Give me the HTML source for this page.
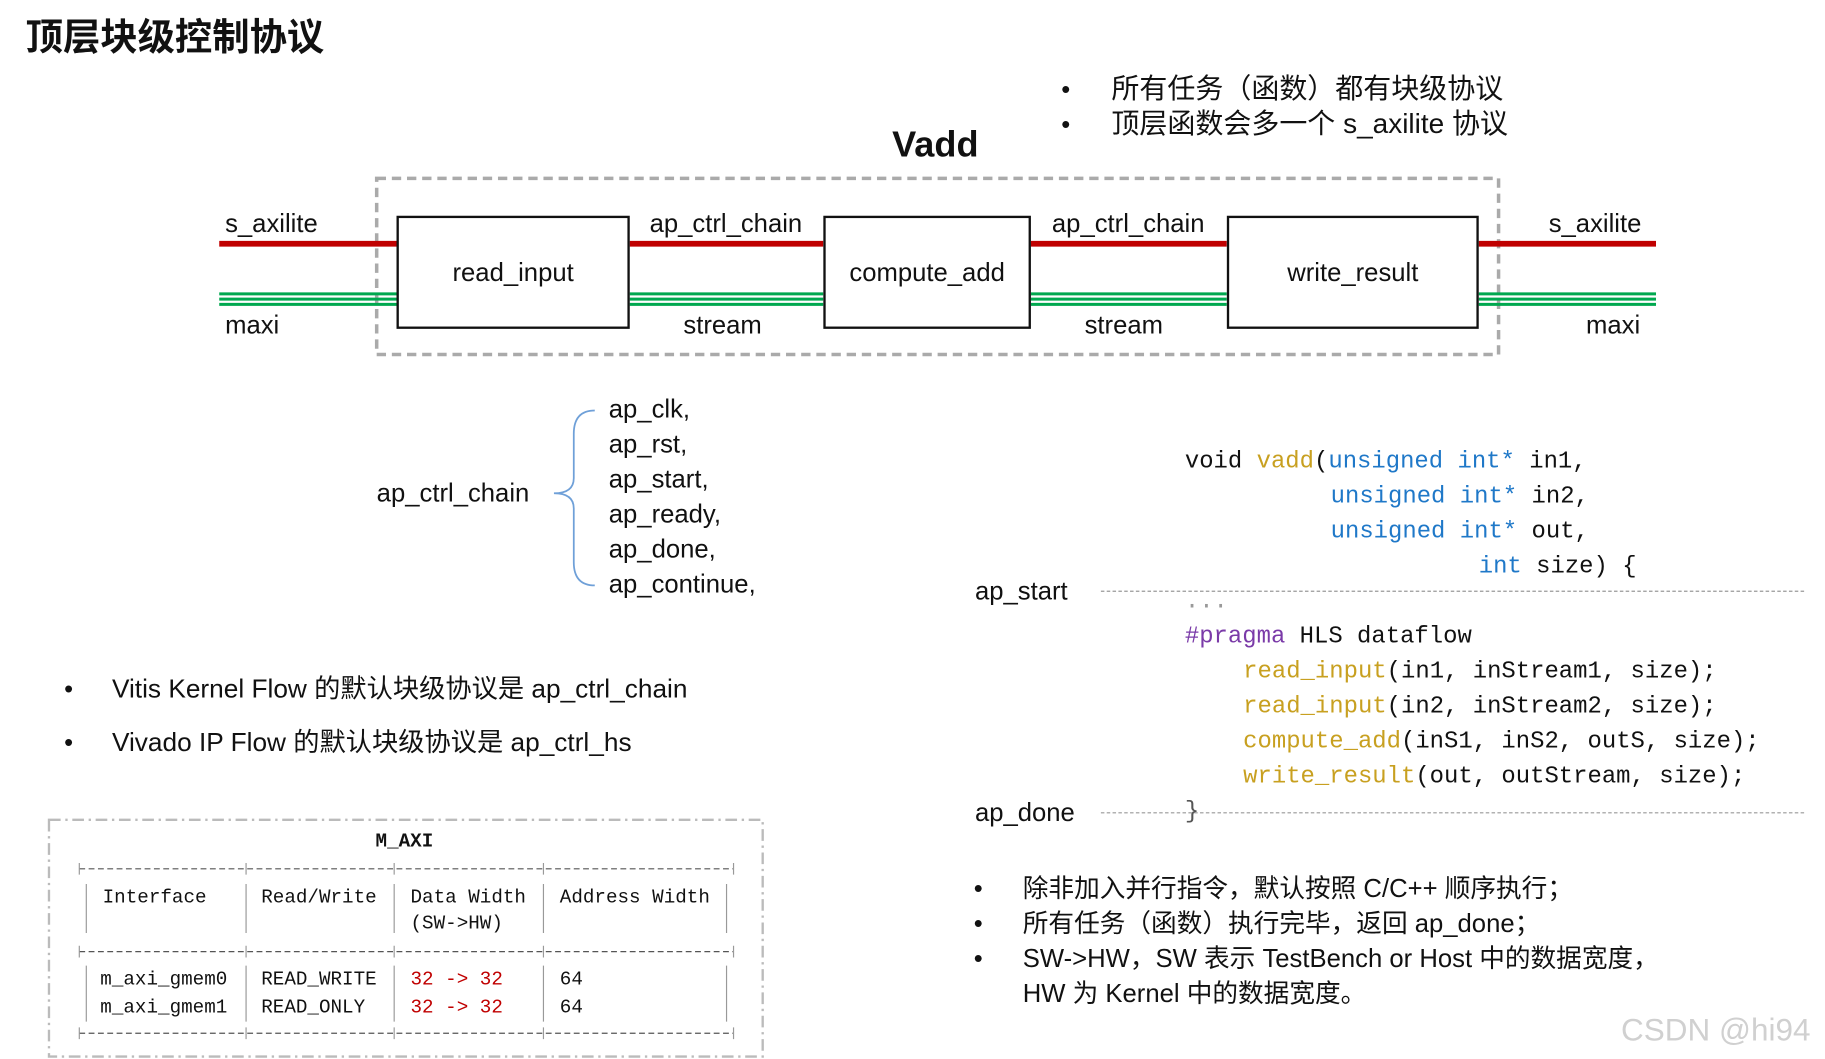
<!DOCTYPE html>
<html><head><meta charset="utf-8"><style>
html,body{margin:0;padding:0;background:#fff;width:1825px;height:1059px;overflow:hidden}
#w{position:absolute;left:0;top:0;width:1565px;height:908px;transform:scale(1.1662);transform-origin:0 0;font-family:"Liberation Sans","Noto Sans CJK SC",sans-serif;color:#111}
.t{position:absolute;white-space:pre;line-height:30px;height:30px}
.s{font-size:22px}
.c{font-family:"Liberation Mono","Noto Sans CJK SC",monospace;font-size:20.5px}
.b{color:#1f78c8}.y{color:#c8a020}.p{color:#7a3aa8}
.m{font-family:"Liberation Mono",monospace;font-size:16.5px}
.box{position:absolute;border:2px solid #111;box-sizing:border-box;background:#fff}
</style></head><body><div id="w">
<div class="t" style="left:22px;top:14px;font-size:32px;font-weight:bold;height:36px;line-height:36px">顶层块级控制协议</div>
<div class="t s" style="left:910px;top:62px">•</div>
<div class="t s" style="left:910px;top:92px">•</div>
<div class="t" style="left:953px;top:62px;font-size:24px">所有任务（函数）都有块级协议</div>
<div class="t" style="left:953px;top:92px;font-size:24px">顶层函数会多一个 s_axilite 协议</div>
<div class="t" style="left:765px;top:106px;font-size:31px;font-weight:bold;height:36px;line-height:36px">Vadd</div>

<svg style="position:absolute;left:0;top:0" width="1565" height="908">
<rect x="323" y="153" width="962" height="151" fill="none" stroke="#aaa" stroke-width="3" stroke-dasharray="8,5"/>
<g stroke="#c00000" stroke-width="5">
<line x1="188" y1="209" x2="340" y2="209"/><line x1="539" y1="209" x2="706" y2="209"/><line x1="883" y1="209" x2="1052" y2="209"/><line x1="1267" y1="209" x2="1420" y2="209"/></g>
<g stroke="#00a84f" stroke-width="2.5">
<path d="M188 252H340M539 252H706M883 252H1052M1267 252H1420M188 256.5H340M539 256.5H706M883 256.5H1052M1267 256.5H1420M188 261H340M539 261H706M883 261H1052M1267 261H1420"/></g>
<path d="M510 352 Q492 352 492 372 L492 410 Q492 423 475 423 Q492 423 492 436 L492 482 Q492 502 510 502" fill="none" stroke="#6fa0d8" stroke-width="1.5"/>
<line x1="944" y1="507" x2="1548" y2="507" stroke="#999" stroke-width="1" stroke-dasharray="3,2"/>
<line x1="944" y1="697" x2="1548" y2="697" stroke="#999" stroke-width="1" stroke-dasharray="3,2"/>
<rect x="42" y="703" width="612" height="203" fill="none" stroke="#bbb" stroke-width="2" stroke-dasharray="10,4,2,4"/>
<g stroke="#555" stroke-width="1" stroke-dasharray="5,3">
<line x1="68" y1="745" x2="629" y2="745"/><line x1="68" y1="816" x2="629" y2="816"/><line x1="68" y1="886" x2="629" y2="886"/></g>
<g stroke="#999" stroke-width="1">
<path d="M74 758V800M211 758V800M338 758V800M466 758V800M623 758V800M74 828V876M211 828V876M338 828V876M466 828V876M623 828V876"/>
<path d="M68 740V750M211 740V750M338 740V750M466 740V750M629 740V750M68 811V821M211 811V821M338 811V821M466 811V821M629 811V821M68 881V891M211 881V891M338 881V891M466 881V891M629 881V891"/></g>
</svg>

<div class="box" style="left:340px;top:185px;width:200px;height:97px"></div>
<div class="box" style="left:706px;top:185px;width:178px;height:97px"></div>
<div class="box" style="left:1052px;top:185px;width:216px;height:97px"></div>
<div class="t s" style="left:340px;top:219px;width:200px;text-align:center">read_input</div>
<div class="t s" style="left:706px;top:219px;width:178px;text-align:center">compute_add</div>
<div class="t s" style="left:1052px;top:219px;width:216px;text-align:center">write_result</div>
<div class="t s" style="left:193px;top:177px">s_axilite</div>
<div class="t s" style="left:557px;top:177px">ap_ctrl_chain</div>
<div class="t s" style="left:902px;top:177px">ap_ctrl_chain</div>
<div class="t s" style="left:1328px;top:177px">s_axilite</div>
<div class="t s" style="left:193px;top:264px">maxi</div>
<div class="t s" style="left:586px;top:264px">stream</div>
<div class="t s" style="left:930px;top:264px">stream</div>
<div class="t s" style="left:1360px;top:264px">maxi</div>

<div class="t s" style="left:323px;top:408px">ap_ctrl_chain</div>
<div class="t s" style="left:522px;top:336px">ap_clk,</div>
<div class="t s" style="left:522px;top:366px">ap_rst,</div>
<div class="t s" style="left:522px;top:396px">ap_start,</div>
<div class="t s" style="left:522px;top:426px">ap_ready,</div>
<div class="t s" style="left:522px;top:456px">ap_done,</div>
<div class="t s" style="left:522px;top:486px">ap_continue,</div>

<div class="t s" style="left:55px;top:576px">•</div>
<div class="t s" style="left:55px;top:622px">•</div>
<div class="t s" style="left:96px;top:576px;font-size:22.5px">Vitis Kernel Flow 的默认块级协议是 ap_ctrl_chain</div>
<div class="t s" style="left:96px;top:622px;font-size:22.5px">Vivado IP Flow 的默认块级协议是 ap_ctrl_hs</div>

<div class="t s" style="left:836px;top:492px">ap_start</div>
<div class="t s" style="left:836px;top:682px">ap_done</div>
<div class="t c" style="left:1016px;top:382px">void <span class="y">vadd</span>(<span class="b">unsigned int*</span> in1,</div>
<div class="t c" style="left:1141px;top:412px"><span class="b">unsigned int*</span> in2,</div>
<div class="t c" style="left:1141px;top:442px"><span class="b">unsigned int*</span> out,</div>
<div class="t c" style="left:1268px;top:472px"><span class="b">int</span> size) {</div>
<div class="t c" style="left:1016px;top:502px;color:#999">...</div>
<div class="t c" style="left:1016px;top:532px"><span class="p">#pragma</span> HLS dataflow</div>
<div class="t c" style="left:1066px;top:562px"><span class="y">read_input</span>(in1, inStream1, size);</div>
<div class="t c" style="left:1066px;top:592px"><span class="y">read_input</span>(in2, inStream2, size);</div>
<div class="t c" style="left:1066px;top:622px"><span class="y">compute_add</span>(inS1, inS2, outS, size);</div>
<div class="t c" style="left:1066px;top:652px"><span class="y">write_result</span>(out, outStream, size);</div>
<div class="t c" style="left:1016px;top:682px;color:#555">}</div>

<div class="t s" style="left:835px;top:747px">•</div>
<div class="t s" style="left:835px;top:777px">•</div>
<div class="t s" style="left:835px;top:807px">•</div>
<div class="t s" style="left:877px;top:747px">除非加入并行指令，默认按照 C/C++ 顺序执行；</div>
<div class="t s" style="left:877px;top:777px">所有任务（函数）执行完毕，返回 ap_done；</div>
<div class="t s" style="left:877px;top:807px">SW-&gt;HW，SW 表示 TestBench or Host 中的数据宽度，</div>
<div class="t s" style="left:877px;top:837px">HW 为 Kernel 中的数据宽度。</div>

<div class="t m" style="left:322px;top:707px;font-weight:bold">M_AXI</div>
<div class="t m" style="left:88px;top:755px">Interface</div>
<div class="t m" style="left:224px;top:755px">Read/Write</div>
<div class="t m" style="left:352px;top:755px">Data Width</div>
<div class="t m" style="left:352px;top:777px">(SW-&gt;HW)</div>
<div class="t m" style="left:480px;top:755px">Address Width</div>
<div class="t m" style="left:86px;top:825px">m_axi_gmem0</div>
<div class="t m" style="left:224px;top:825px">READ_WRITE</div>
<div class="t m" style="left:352px;top:825px;color:#c00000">32 -&gt; 32</div>
<div class="t m" style="left:480px;top:825px">64</div>
<div class="t m" style="left:86px;top:849px">m_axi_gmem1</div>
<div class="t m" style="left:224px;top:849px">READ_ONLY</div>
<div class="t m" style="left:352px;top:849px;color:#c00000">32 -&gt; 32</div>
<div class="t m" style="left:480px;top:849px">64</div>

<div class="t" style="left:1390px;top:866px;font-size:27px;color:#d0d0d0;height:34px;line-height:34px">CSDN @hi94</div>
</div></body></html>
